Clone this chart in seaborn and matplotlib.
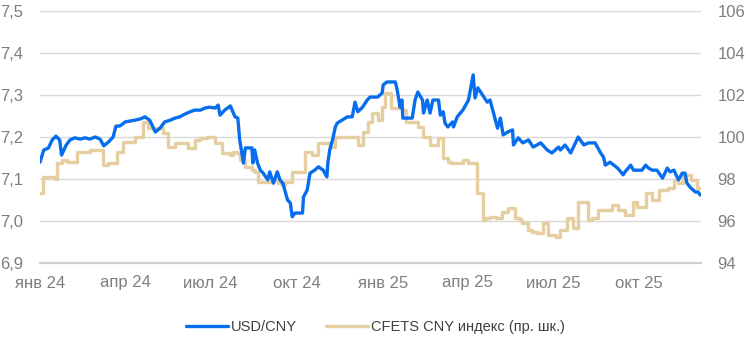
import matplotlib
matplotlib.use('Agg')
import matplotlib.pyplot as plt
import pandas as pd
import seaborn as sns

# ---- data ----
usd_dates = [
    '2024-01-01', '2024-01-05', '2024-01-10', '2024-01-14', '2024-01-18', '2024-01-22', '2024-01-24',
    '2024-01-29', '2024-02-02', '2024-02-07', '2024-02-13', '2024-02-18', '2024-02-23', '2024-02-29',
    '2024-03-05', '2024-03-09', '2024-03-14', '2024-03-19', '2024-03-22', '2024-03-26', '2024-04-01',
    '2024-04-06', '2024-04-11', '2024-04-17', '2024-04-22', '2024-04-27', '2024-05-03', '2024-05-08',
    '2024-05-13', '2024-05-19', '2024-05-24', '2024-05-29', '2024-06-04', '2024-06-09', '2024-06-14',
    '2024-06-20', '2024-06-25', '2024-06-30', '2024-07-06', '2024-07-09', '2024-07-11', '2024-07-16',
    '2024-07-22', '2024-07-27', '2024-07-30', '2024-08-01', '2024-08-04', '2024-08-05', '2024-08-07',
    '2024-08-14', '2024-08-15', '2024-08-17', '2024-08-20', '2024-08-23', '2024-08-26', '2024-08-31',
    '2024-09-02', '2024-09-06', '2024-09-10', '2024-09-13', '2024-09-16', '2024-09-21', '2024-09-24',
    '2024-09-26', '2024-09-29', '2024-10-07', '2024-10-08', '2024-10-12', '2024-10-15', '2024-10-20',
    '2024-10-24', '2024-10-29', '2024-11-02', '2024-11-03', '2024-11-05', '2024-11-08', '2024-11-11',
    '2024-11-13', '2024-11-18', '2024-11-24', '2024-11-29', '2024-12-02', '2024-12-05', '2024-12-10',
    '2024-12-15', '2024-12-18', '2024-12-26', '2024-12-31', '2025-01-01', '2025-01-05', '2025-01-14',
    '2025-01-16', '2025-01-19', '2025-01-21', '2025-01-22', '2025-02-01', '2025-02-04', '2025-02-07',
    '2025-02-12', '2025-02-13', '2025-02-17', '2025-02-20', '2025-02-23', '2025-03-01', '2025-03-03',
    '2025-03-06', '2025-03-08', '2025-03-11', '2025-03-16', '2025-03-17', '2025-03-21', '2025-03-27',
    '2025-04-02', '2025-04-07', '2025-04-09', '2025-04-12', '2025-04-17', '2025-04-22', '2025-04-25',
    '2025-04-27', '2025-05-03', '2025-05-06', '2025-05-09', '2025-05-14', '2025-05-19', '2025-05-20',
    '2025-05-25', '2025-05-30', '2025-06-05', '2025-06-10', '2025-06-18', '2025-06-25', '2025-06-30',
    '2025-07-07', '2025-07-09', '2025-07-14', '2025-07-20', '2025-07-23', '2025-07-28', '2025-08-03',
    '2025-08-08', '2025-08-15', '2025-08-21', '2025-08-24', '2025-08-26', '2025-08-31', '2025-09-08',
    '2025-09-14', '2025-09-16', '2025-09-22', '2025-09-25', '2025-10-04', '2025-10-08', '2025-10-11',
    '2025-10-15', '2025-10-20', '2025-10-26', '2025-10-31', '2025-11-03', '2025-11-07', '2025-11-12',
    '2025-11-16', '2025-11-19', '2025-11-21', '2025-11-25', '2025-11-30', '2025-12-03', '2025-12-05',
]
usd_values = [
    7.140, 7.169, 7.174, 7.193, 7.202, 7.193, 7.157,
    7.181, 7.193, 7.198, 7.195, 7.198, 7.195, 7.200,
    7.195, 7.179, 7.188, 7.200, 7.226, 7.226, 7.236,
    7.238, 7.240, 7.243, 7.248, 7.240, 7.212, 7.221,
    7.236, 7.240, 7.245, 7.248, 7.255, 7.260, 7.264,
    7.264, 7.269, 7.271, 7.269, 7.276, 7.252, 7.264,
    7.274, 7.248, 7.245, 7.193, 7.152, 7.138, 7.174,
    7.174, 7.138, 7.169, 7.138, 7.121, 7.114, 7.098,
    7.117, 7.090, 7.117, 7.098, 7.090, 7.050, 7.043,
    7.010, 7.019, 7.019, 7.057, 7.074, 7.114, 7.121,
    7.129, 7.121, 7.105, 7.138, 7.169, 7.193, 7.224,
    7.233, 7.240, 7.248, 7.248, 7.283, 7.260, 7.271,
    7.288, 7.295, 7.295, 7.305, 7.324, 7.331, 7.331,
    7.312, 7.271, 7.288, 7.245, 7.245, 7.288, 7.307,
    7.288, 7.257, 7.288, 7.257, 7.288, 7.288, 7.252,
    7.260, 7.233, 7.224, 7.236, 7.224, 7.248, 7.264,
    7.288, 7.348, 7.293, 7.317, 7.300, 7.283, 7.288,
    7.271, 7.221, 7.245, 7.205, 7.212, 7.217, 7.181,
    7.198, 7.186, 7.193, 7.176, 7.186, 7.169, 7.162,
    7.176, 7.169, 7.181, 7.162, 7.176, 7.200, 7.181,
    7.186, 7.186, 7.162, 7.152, 7.133, 7.140, 7.126,
    7.110, 7.117, 7.133, 7.121, 7.121, 7.133, 7.126,
    7.121, 7.121, 7.102, 7.126, 7.117, 7.121, 7.098,
    7.114, 7.114, 7.090, 7.079, 7.069, 7.069, 7.062,
]

cfets_dates = [
    '2024-01-01', '2024-01-04', '2024-01-17', '2024-01-19', '2024-01-24', '2024-01-30', '2024-02-09',
    '2024-02-23', '2024-03-08', '2024-03-14', '2024-03-23', '2024-03-29', '2024-04-11', '2024-04-20',
    '2024-04-25', '2024-05-11', '2024-05-16', '2024-05-24', '2024-06-07', '2024-06-14', '2024-06-20',
    '2024-06-27', '2024-07-06', '2024-07-13', '2024-07-22', '2024-07-25', '2024-07-29', '2024-08-01',
    '2024-08-07', '2024-08-14', '2024-08-17', '2024-08-21', '2024-09-05', '2024-09-11', '2024-09-15',
    '2024-09-18', '2024-09-26', '2024-10-10', '2024-10-17', '2024-10-24', '2024-11-05', '2024-11-11',
    '2024-12-05', '2024-12-11', '2024-12-16', '2024-12-20', '2024-12-26', '2024-12-31', '2025-01-03',
    '2025-01-09', '2025-01-21', '2025-01-25', '2025-02-07', '2025-02-13', '2025-02-20', '2025-02-28',
    '2025-03-06', '2025-03-11', '2025-03-14', '2025-03-27', '2025-04-01', '2025-04-11', '2025-04-17',
    '2025-04-20', '2025-04-25', '2025-05-01', '2025-05-08', '2025-05-14', '2025-05-22', '2025-05-27',
    '2025-05-29', '2025-06-04', '2025-06-09', '2025-06-14', '2025-06-20', '2025-06-26', '2025-07-04',
    '2025-07-09', '2025-07-16', '2025-07-22', '2025-07-28', '2025-08-07', '2025-08-12', '2025-08-18',
    '2025-09-02', '2025-09-09', '2025-09-16', '2025-09-24', '2025-09-29', '2025-10-08', '2025-10-15',
    '2025-10-22', '2025-11-01', '2025-11-07', '2025-11-12', '2025-11-17', '2025-11-25', '2025-12-02',
    '2025-12-05',
]
cfets_values = [
    97.33, 98.10, 98.00, 98.76, 98.90, 98.81, 99.29,
    99.38, 98.67, 98.76, 99.29, 99.76, 100.00, 100.71,
    100.43, 100.19, 99.52, 99.71, 99.48, 99.86, 99.95,
    100.00, 99.71, 99.24, 99.14, 99.29, 99.24, 98.90,
    98.57, 98.43, 98.33, 97.86, 97.95, 97.81, 97.71,
    97.86, 98.33, 99.29, 99.14, 99.71, 99.52, 100.00,
    99.62, 100.24, 100.71, 101.14, 100.81, 101.43, 102.10,
    101.38, 101.29, 100.71, 100.48, 100.00, 99.62, 99.95,
    99.00, 98.81, 98.76, 98.90, 98.76, 97.33, 96.05,
    96.14, 96.19, 96.14, 96.43, 96.62, 96.14, 96.05,
    95.90, 95.57, 95.48, 95.43, 95.90, 95.33, 95.24,
    95.57, 96.14, 95.67, 96.90, 96.05, 96.14, 96.52,
    96.76, 96.52, 96.29, 96.90, 96.67, 97.33, 97.00,
    97.48, 97.57, 97.95, 97.81, 98.19, 97.95, 97.57,
    97.57,
]

tick_dates = ['2024-01-01', '2024-04-01', '2024-07-01', '2024-10-01',
              '2025-01-01', '2025-04-01', '2025-07-01', '2025-10-01']
tick_labels = ['янв 24', 'апр 24', 'июл 24', 'окт 24',
               'янв 25', 'апр 25', 'июл 25', 'окт 25']
left_ticks = [6.9, 7.0, 7.1, 7.2, 7.3, 7.4, 7.5]
right_ticks = [94, 96, 98, 100, 102, 104, 106]
series_names = ['USD/CNY', 'CFETS CNY индекс (пр. шк.)']

BLUE = '#066EEE'
TAN = '#E5CE9F'
GRAY_TXT = '#7F7F7F'

sns.set_theme(style='white')
plt.rcParams['font.family'] = ['Liberation Sans', 'DejaVu Sans']

fig = plt.figure(figsize=(7.46, 3.55), dpi=100)
ax = fig.add_axes([40 / 746, 1 - 263 / 355, 661 / 746, 252 / 355])
ax2 = ax.twinx()

usd = pd.DataFrame({'date': pd.to_datetime(usd_dates), 'value': usd_values})
cf = pd.DataFrame({'date': pd.to_datetime(cfets_dates), 'value': cfets_values})

sns.lineplot(data=cf, x='date', y='value', ax=ax2, color=TAN, linewidth=2.4,
             drawstyle='steps-post', legend=False)
sns.lineplot(data=usd, x='date', y='value', ax=ax, color=BLUE, linewidth=2.4,
             legend=False)

ax.set_zorder(2)
ax2.set_zorder(1)
ax.patch.set_visible(False)

ax.set_xlim(pd.Timestamp('2024-01-01'), pd.Timestamp('2025-12-06'))
ax.set_ylim(6.9, 7.5)
ax2.set_ylim(94, 106)

ax.set_yticks(left_ticks)
ax.set_yticklabels([f'{v:.1f}'.replace('.', ',') for v in left_ticks])
ax2.set_yticks(right_ticks)
ax2.set_yticklabels([str(v) for v in right_ticks])
ax.set_xticks(pd.to_datetime(tick_dates))
ax.set_xticklabels(tick_labels)

ax.set_xlabel('')
ax.set_ylabel('')
ax2.set_xlabel('')
ax2.set_ylabel('')

ax.tick_params(axis='y', length=0, pad=12, labelsize=12, labelcolor=GRAY_TXT)
ax.tick_params(axis='x', length=0, pad=9, labelsize=12, labelcolor=GRAY_TXT)
ax2.tick_params(axis='y', length=0, pad=12, labelsize=12, labelcolor=GRAY_TXT)

ax.grid(False)
ax2.grid(False)
ax2.yaxis.grid(True, color='#D9D9D9', linewidth=1.0)

for s in ['left', 'right', 'top']:
    ax.spines[s].set_visible(False)
for s in ax2.spines.values():
    s.set_visible(False)
ax.spines['bottom'].set_color('#D0D0D0')
ax.spines['bottom'].set_linewidth(1.6)

handles = [plt.Line2D([], [], color=BLUE, linewidth=2.4),
           plt.Line2D([], [], color=TAN, linewidth=2.4)]
fig.legend(handles, series_names, loc='center', bbox_to_anchor=(0.503, 0.079),
           ncol=2, frameon=False, fontsize=10.5, handlelength=2.9,
           handletextpad=0.2, columnspacing=2.0, labelcolor='#404040')

fig.savefig('out.png', dpi=100)
